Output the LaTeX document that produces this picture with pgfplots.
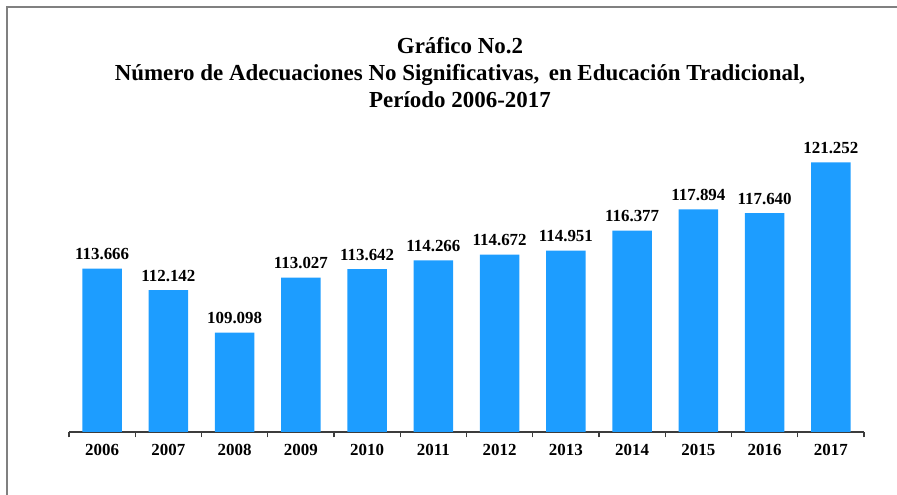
\documentclass[border=0pt]{standalone}
\usepackage{fontspec}
\setmainfont{Liberation Serif}
\usepackage{pgfplots}
\pgfplotsset{compat=1.18}
\definecolor{barblue}{RGB}{29,157,255}
\definecolor{framegray}{RGB}{128,128,128}
\definecolor{axisgray}{RGB}{60,60,60}
\begin{document}
\begin{tikzpicture}
% 1px = 0.75pt, picture 897x495 px
\useasboundingbox (0,0) rectangle (672.75pt,-371.25pt);
\draw[framegray, line width=1.2pt] (5.25pt,-371.25pt) -- (5.25pt,-5.25pt) -- (672.75pt,-5.25pt);
\begin{scope}[font=\fontsize{17.2}{20}\selectfont\bfseries]
\node[anchor=base] at (345pt,-40.5pt) {Gráfico No.2};
\node[anchor=base] at (345pt,-60.75pt) {Número de Adecuaciones No Significativas,\, en Educación Tradicional,};
\node[anchor=base] at (345pt,-81pt) {Período 2006-2017};
\end{scope}
\begin{axis}[
    at={(51.75pt,-324pt)}, anchor=south west,
    scale only axis, width=596.25pt, height=220.5pt,
    xmin=-0.5, xmax=11.5, ymin=102, ymax=123,
    axis x line*=bottom, axis y line=none,
    axis line style={-, axisgray, line width=1pt},
    xtick={0,...,11},
    xticklabels={2006,2007,2008,2009,2010,2011,2012,2013,2014,2015,2016,2017},
    major x tick style={draw=none},
    minor xtick={-0.5,0.5,...,11.5},
    minor tick length=4pt,
    xtick align=outside,
    minor x tick style={axisgray, line width=1pt},
    xticklabel style={font=\fontsize{12.7}{15}\selectfont\bfseries, yshift=-1.5pt},
    ybar, bar width=29.7pt,
    clip=false,
    nodes near coords,
    every node near coord/.append style={font=\fontsize{12.7}{15}\selectfont\bfseries, yshift=3pt},
    /pgf/number format/.cd, fixed, fixed zerofill, precision=3, assume math mode=true,
]
\addplot[fill=barblue, draw=none] coordinates {
(0,113.666) (1,112.142) (2,109.098) (3,113.027) (4,113.642) (5,114.266)
(6,114.672) (7,114.951) (8,116.377) (9,117.894) (10,117.640) (11,121.252)};
\end{axis}
\end{tikzpicture}
\end{document}
